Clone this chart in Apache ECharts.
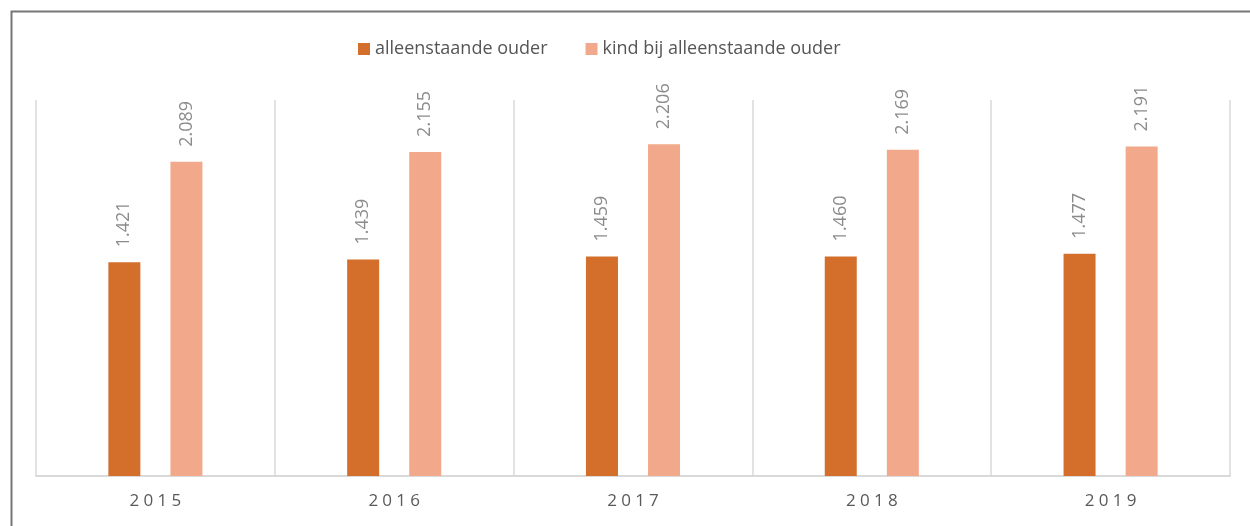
<!DOCTYPE html>
<html>
<head>
<meta charset="utf-8">
<script src="https://cdn.jsdelivr.net/npm/echarts@6/dist/echarts.min.js"></script>
<style>
  html, body { margin: 0; padding: 0; background: #fff; }
  #chart { width: 1250px; height: 526px; }
</style>
</head>
<body>
<div id="chart"></div>
<script>
// jaren en aantallen (x 1000)
const years = ['2015', '2016', '2017', '2018', '2019']
const alleenstaandeOuder = [1421, 1439, 1459, 1460, 1477]
const kindBijAlleenstaande = [2089, 2155, 2206, 2169, 2191]
const seriesNames = ['alleenstaande ouder', 'kind bij alleenstaande ouder']

const font = '"Open Sans", "Liberation Sans", sans-serif'

// 1421 -> "1.421"
const fmt = (v) => {
  const s = String(Math.round(v))
  return s.replace(/\B(?=(\d{3})+(?!\d))/g, '.')
}

const valueLabel = {
  show: true,
  position: 'top',
  rotate: 90,
  align: 'left',
  verticalAlign: 'middle',
  distance: 15,
  color: '#8C8C8C',
  fontSize: 18,
  fontFamily: font,
  formatter: (p) => fmt(p.value)
}

const chart = echarts.init(document.getElementById('chart'))
chart.setOption({
  animation: false,
  textStyle: { fontFamily: font },
  graphic: [
    {
      type: 'rect',
      left: 9, top: 9,
      shape: { width: 1400, height: 700 },
      style: { fill: 'none', stroke: '#767676', lineWidth: 2 },
      silent: true
    }
  ],
  legend: {
    top: 35,
    left: 353,
    itemWidth: 12,
    itemHeight: 12,
    itemGap: 38,
    icon: 'rect',
    textStyle: { color: '#555555', fontSize: 18, fontFamily: font },
    data: seriesNames
  },
  grid: { left: 36, right: 20, top: 100, bottom: 50 },
  xAxis: {
    type: 'category',
    data: years,
    axisLine: { lineStyle: { color: '#D9D9D9', width: 2 } },
    axisTick: { show: false },
    splitLine: { show: true, lineStyle: { color: '#D9D9D9', width: 1.5 } },
    axisLabel: {
      color: '#595959',
      fontSize: 17,
      margin: 17,
      fontFamily: font,
      formatter: (v) => v.split('').join('\u2005')
    }
  },
  yAxis: {
    type: 'value',
    min: 0,
    max: 2500,
    show: false,
    splitLine: { show: false }
  },
  series: [
    {
      name: seriesNames[0],
      type: 'bar',
      data: alleenstaandeOuder,
      barWidth: 32,
      barGap: '94%',
      itemStyle: { color: '#D36E2B' },
      label: valueLabel
    },
    {
      name: seriesNames[1],
      type: 'bar',
      data: kindBijAlleenstaande,
      barWidth: 32,
      itemStyle: { color: '#F2A88A' },
      label: valueLabel
    }
  ]
})
</script>
</body>
</html>
